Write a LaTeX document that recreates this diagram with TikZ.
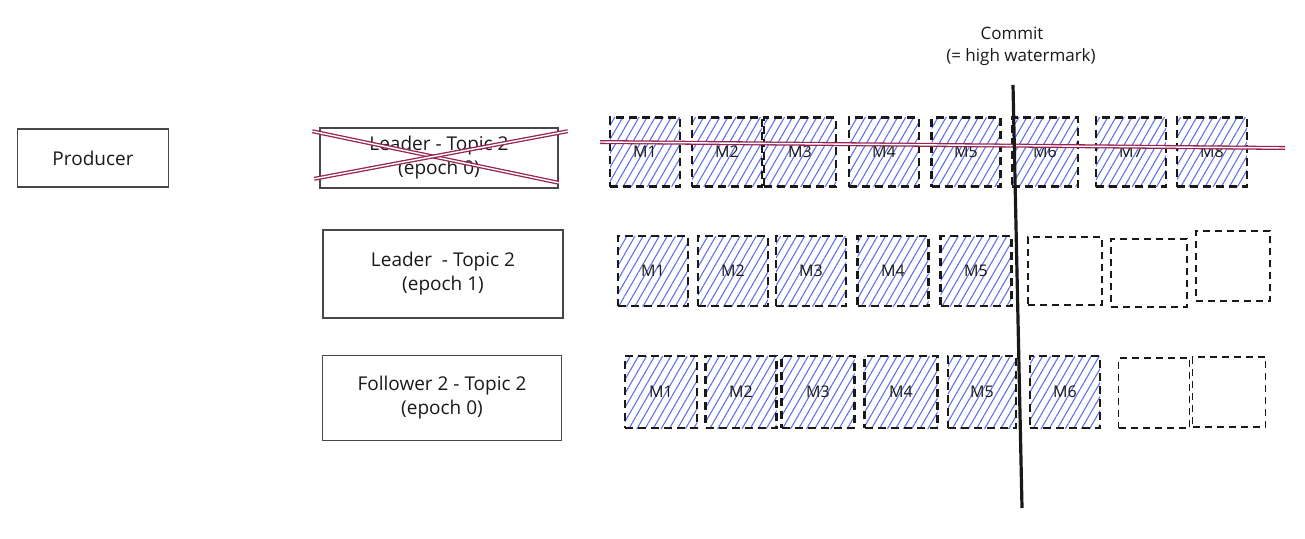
\documentclass[tikz,border=0pt]{standalone}
\usepackage{fontspec}
\setmainfont{Open Sans}
\usetikzlibrary{patterns.meta,calc}
\definecolor{hatch}{RGB}{96,112,236}
\definecolor{strike}{RGB}{150,35,80}
\definecolor{ink}{RGB}{25,25,25}
\tikzset{
  sketchbox/.style={draw=ink!80, line width=1.6pt, align=center, inner sep=0pt,
    font=\fontsize{19}{24}\selectfont, text=ink},
  msg/.style={draw=ink, line width=2.6pt, dash pattern=on 8pt off 5pt,
    pattern={Lines[angle=60,distance=7pt,line width=1.1pt]}, pattern color=hatch,
    inner sep=0pt, font=\fontsize{16}{18}\selectfont, text=ink},
  slot/.style={draw=ink, line width=1.3pt, dash pattern=on 7pt off 5pt, inner sep=0pt},
  strikeline/.style={draw=strike, line width=1.3pt, double=white, double distance=1.4pt},
  commitline/.style={draw=ink, line width=3.2pt},
  label/.style={font=\fontsize{17}{20}\selectfont, text=ink, inner sep=0pt}
}
\begin{document}
\begin{tikzpicture}[x=1pt,y=-1pt]
\useasboundingbox (0,0) rectangle (1305,538);
% left nodes
\node[sketchbox, minimum width=151pt, minimum height=58pt] (prod) at (93,158) {Producer};
\node[sketchbox, minimum width=238pt, minimum height=60pt] (lead0) at (439,158) {Leader - Topic 2\\(epoch 0)};
\node[sketchbox, minimum width=240pt, minimum height=88pt] (lead1) at (443,274) {Leader \ - Topic 2\\(epoch 1)};
\node[sketchbox, minimum width=239pt, minimum height=85pt] (foll) at (442,398) {Follower 2 - Topic 2\\(epoch 0)};
% cross over old leader
\coordinate (c1a) at ($(lead0.north west)+(-7,4)$);
\coordinate (c1b) at ($(lead0.south east)+(0,-6)$);
\coordinate (c2a) at ($(lead0.south west)+(-5,-10)$);
\coordinate (c2b) at ($(lead0.north east)+(9,4)$);
\draw[strikeline] (c1a) -- (c1b);
\draw[strikeline] (c2a) -- (c2b);
% row 1
\foreach \n/\cx/\w in {1/645/70, 2/727/70, 3/800/72, 4/884/70, 5/966/69, 6/1045/66, 7/1131/70, 8/1212/70}
  \node[msg, minimum width=\w pt, minimum height=69pt] (a\n) at (\cx,152) {M\n};
% row 2
\foreach \n/\cx/\w in {1/653/70, 2/733/70, 3/811/70, 4/893/71, 5/976/71}
  \node[msg, minimum width=\w pt, minimum height=70pt] (b\n) at (\cx,271) {M\n};
\node[slot, minimum width=74pt, minimum height=68pt] (be1) at (1065,271) {};
\node[slot, minimum width=76pt, minimum height=68pt] (be2) at (1149,273) {};
\node[slot, minimum width=74pt, minimum height=70pt] (be3) at (1233,266) {};
% row 3
\foreach \n/\cx/\w in {1/661/72, 2/741/71, 3/818/73, 4/901/73, 5/982/68, 6/1065/70}
  \node[msg, minimum width=\w pt, minimum height=72pt] (c\n) at (\cx,392) {M\n};
\node[slot, minimum width=71pt, minimum height=70pt] (ce1) at (1154,393) {};
\node[slot, minimum width=73pt, minimum height=70pt] (ce2) at (1229,392) {};
% strike through row 1
\coordinate (s1) at (600,142);
\coordinate (s2) at (1285,148);
\draw[strikeline] (s1) -- (s2);
% commit line
\coordinate (ctop) at (1013,85);
\coordinate (cbot) at (1022,508);
\draw[commitline] (ctop) -- (cbot);
\node[label] (commit) at (1012,33) {Commit};
\node[label] (hwm) at (1021,57) {(= high watermark)};
\end{tikzpicture}
\end{document}
